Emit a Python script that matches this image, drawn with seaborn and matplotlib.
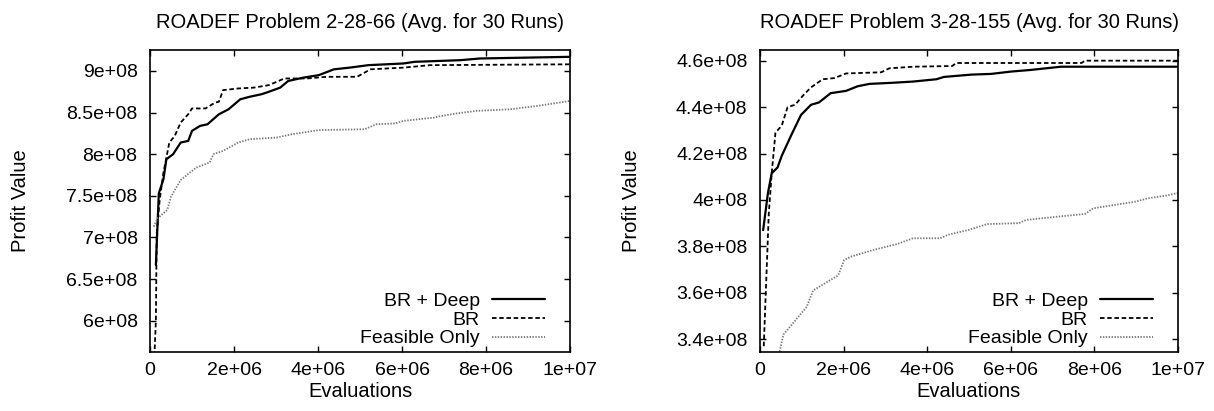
import numpy as np
import pandas as pd
import seaborn as sns
import matplotlib.pyplot as plt

# ---- data (evaluations, profit value) ----
# ROADEF problem 2-28-66
p1_deep_x = [1.4e5, 2.1e5, 3.2e5, 3.9e5, 5.5e5, 7.3e5, 9.1e5, 1.0e6, 1.19e6, 1.37e6,
             1.64e6, 1.87e6, 2.01e6, 2.15e6, 2.37e6, 2.65e6, 2.83e6, 3.1e6, 3.29e6,
             3.65e6, 4.02e6, 4.38e6, 4.75e6, 5.2e6, 6.03e6, 6.3e6, 7.4e6, 7.85e6, 1e7]
p1_deep_y = [6.67e8, 7.53e8, 7.70e8, 7.94e8, 8.00e8, 8.14e8, 8.16e8, 8.28e8, 8.34e8, 8.36e8,
             8.48e8, 8.54e8, 8.60e8, 8.66e8, 8.69e8, 8.72e8, 8.75e8, 8.80e8, 8.88e8,
             8.92e8, 8.95e8, 9.02e8, 9.04e8, 9.07e8, 9.09e8, 9.11e8, 9.13e8, 9.15e8, 9.17e8]

p1_br_x = [0.9e5, 1.4e5, 1.6e5, 2.3e5, 3.2e5, 4.6e5, 5.9e5, 7.3e5, 9.1e5, 1.0e6,
           1.32e6, 1.55e6, 1.64e6, 1.74e6, 2.1e6, 2.47e6, 2.83e6, 3.2e6, 3.74e6,
           4.2e6, 4.93e6, 5.25e6, 6.03e6, 6.67e6, 1e7]
p1_br_y = [5.40e8, 6.00e8, 7.05e8, 7.45e8, 7.78e8, 8.14e8, 8.22e8, 8.38e8, 8.48e8, 8.55e8,
           8.55e8, 8.62e8, 8.63e8, 8.77e8, 8.79e8, 8.80e8, 8.83e8, 8.91e8, 8.91e8,
           8.93e8, 8.93e8, 9.02e8, 9.04e8, 9.07e8, 9.08e8]

p1_feas_x = [0.9e5, 1.8e5, 4.1e5, 5.0e5, 7.3e5, 1.1e6, 1.42e6, 1.51e6, 1.74e6, 2.1e6,
             2.37e6, 3.01e6, 3.38e6, 4.02e6, 5.11e6, 5.39e6, 5.84e6, 6.03e6, 6.76e6,
             6.94e6, 7.3e6, 7.76e6, 8.58e6, 9.22e6, 1e7]
p1_feas_y = [7.13e8, 7.23e8, 7.33e8, 7.49e8, 7.69e8, 7.84e8, 7.90e8, 8.00e8, 8.04e8, 8.14e8,
             8.18e8, 8.20e8, 8.24e8, 8.29e8, 8.30e8, 8.36e8, 8.37e8, 8.40e8, 8.44e8,
             8.46e8, 8.49e8, 8.52e8, 8.54e8, 8.58e8, 8.64e8]

# ROADEF problem 3-28-155
p2_deep_x = [0.75e5, 1.9e5, 2.8e5, 4.2e5, 5.2e5, 7.5e5, 9.8e5, 1.22e6, 1.41e6, 1.69e6,
             2.06e6, 2.34e6, 2.62e6, 3.19e6, 3.66e6, 4.22e6, 4.4e6, 5.06e6, 5.53e6,
             6.0e6, 6.47e6, 7.2e6, 1e7]
p2_deep_y = [3.87e8, 4.03e8, 4.115e8, 4.14e8, 4.19e8, 4.28e8, 4.366e8, 4.41e8, 4.42e8, 4.46e8,
             4.47e8, 4.49e8, 4.50e8, 4.505e8, 4.51e8, 4.52e8, 4.53e8, 4.54e8, 4.543e8,
             4.553e8, 4.56e8, 4.574e8, 4.574e8]

p2_br_x = [0.9e5, 1.4e5, 2.1e5, 2.8e5, 3.7e5, 5.2e5, 6.6e5, 8.4e5, 1.03e6, 1.22e6,
           1.5e6, 1.78e6, 2.06e6, 2.9e6, 3.09e6, 3.66e6, 4.6e6, 4.69e6, 7.69e6, 7.78e6, 1e7]
p2_br_y = [3.37e8, 3.61e8, 3.94e8, 4.115e8, 4.29e8, 4.32e8, 4.40e8, 4.41e8, 4.45e8, 4.485e8,
           4.52e8, 4.525e8, 4.545e8, 4.55e8, 4.567e8, 4.574e8, 4.577e8, 4.59e8, 4.59e8, 4.60e8, 4.60e8]

p2_feas_x = [4.7e5, 5.6e5, 8.4e5, 1.12e6, 1.27e6, 1.59e6, 1.87e6, 2.01e6, 2.16e6, 2.72e6,
             3.28e6, 3.66e6, 4.31e6, 4.5e6, 4.97e6, 5.44e6, 6.19e6, 6.37e6, 7.12e6,
             7.78e6, 7.97e6, 8.99e6, 9.28e6, 9.75e6, 1e7]
p2_feas_y = [3.347e8, 3.42e8, 3.48e8, 3.54e8, 3.61e8, 3.645e8, 3.675e8, 3.74e8, 3.755e8, 3.785e8,
             3.81e8, 3.835e8, 3.835e8, 3.85e8, 3.87e8, 3.896e8, 3.90e8, 3.914e8, 3.928e8,
             3.94e8, 3.964e8, 3.993e8, 4.007e8, 4.02e8, 4.03e8]

x_ticks = [0, 2e6, 4e6, 6e6, 8e6, 1e7]
x_tick_labels = ["0", "2e+06", "4e+06", "6e+06", "8e+06", "1e+07"]
p1_y_ticks = [6e8, 6.5e8, 7e8, 7.5e8, 8e8, 8.5e8, 9e8]
p1_y_tick_labels = ["6e+08", "6.5e+08", "7e+08", "7.5e+08", "8e+08", "8.5e+08", "9e+08"]
p2_y_ticks = [3.4e8, 3.6e8, 3.8e8, 4e8, 4.2e8, 4.4e8, 4.6e8]
p2_y_tick_labels = ["3.4e+08", "3.6e+08", "3.8e+08", "4e+08", "4.2e+08", "4.4e+08", "4.6e+08"]

sns.set_theme(style="white")
plt.rcParams["font.family"] = ["Liberation Sans", "DejaVu Sans"]
plt.rcParams["text.color"] = "black"

TITLE_FS = 14.5
TICK_FS = 14
LABEL_FS = 14.5
LEGEND_FS = 14


def plot_panel(ax, series, title, y_ticks, y_tick_labels, ylim):
    """Draw one convergence panel in the gnuplot-like style."""
    styles = {
        "BR + Deep": dict(color="black", linewidth=1.6, linestyle="-"),
        "BR": dict(color="black", linewidth=1.3, linestyle=(0, (2.5, 1.5))),
        "Feasible Only": dict(color="#7a7a7a", linewidth=1.3, linestyle=(0, (0.8, 0.8))),
    }
    for name, (xs, ys) in series.items():
        df = pd.DataFrame({"Evaluations": xs, "Profit": ys})
        sns.lineplot(data=df, x="Evaluations", y="Profit", ax=ax, label=name,
                     estimator=None, sort=False, **styles[name])

    ax.set_xlim(0, 1e7)
    ax.set_ylim(*ylim)
    ax.set_xticks(x_ticks)
    ax.set_xticklabels(x_tick_labels)
    ax.set_yticks(y_ticks)
    ax.set_yticklabels(y_tick_labels)
    ax.tick_params(direction="in", length=4, width=1, top=True, right=True,
                   bottom=True, left=True, labelsize=TICK_FS, color="black",
                   labelcolor="black")
    ax.tick_params(axis="y", pad=9)
    ax.tick_params(axis="x", pad=7)
    for sp in ax.spines.values():
        sp.set_color("black")
        sp.set_linewidth(1.2)
    ax.set_title(title, fontsize=TITLE_FS, pad=16, color="black")
    ax.set_xlabel("Evaluations", fontsize=LABEL_FS, color="black")
    ax.set_ylabel("Profit Value", fontsize=LABEL_FS, color="black")
    ax.xaxis.set_label_coords(0.5, -0.1)
    ax.yaxis.set_label_coords(-0.285, 0.5)
    leg = ax.legend(loc="lower right", bbox_to_anchor=(0.94, 0.015), frameon=False,
                    markerfirst=False, alignment="right", fontsize=LEGEND_FS,
                    handlelength=2.7, handletextpad=0.65, labelspacing=0.05,
                    borderaxespad=0, borderpad=0)
    for txt in leg.get_texts():
        txt.set_color("black")


fig = plt.figure(figsize=(12.14, 4.11), dpi=100)
ax1 = fig.add_axes([150 / 1214, 59 / 411, 420 / 1214, 302 / 411])
ax2 = fig.add_axes([760 / 1214, 59 / 411, 418 / 1214, 302 / 411])

plot_panel(ax1,
           {"BR + Deep": (p1_deep_x, p1_deep_y),
            "BR": (p1_br_x, p1_br_y),
            "Feasible Only": (p1_feas_x, p1_feas_y)},
           "ROADEF Problem 2-28-66 (Avg. for 30 Runs)",
           p1_y_ticks, p1_y_tick_labels, (5.624e8, 9.252e8))
plot_panel(ax2,
           {"BR + Deep": (p2_deep_x, p2_deep_y),
            "BR": (p2_br_x, p2_br_y),
            "Feasible Only": (p2_feas_x, p2_feas_y)},
           "ROADEF Problem 3-28-155 (Avg. for 30 Runs)",
           p2_y_ticks, p2_y_tick_labels, (3.345e8, 4.646e8))

fig.savefig("out.png", dpi=100)
